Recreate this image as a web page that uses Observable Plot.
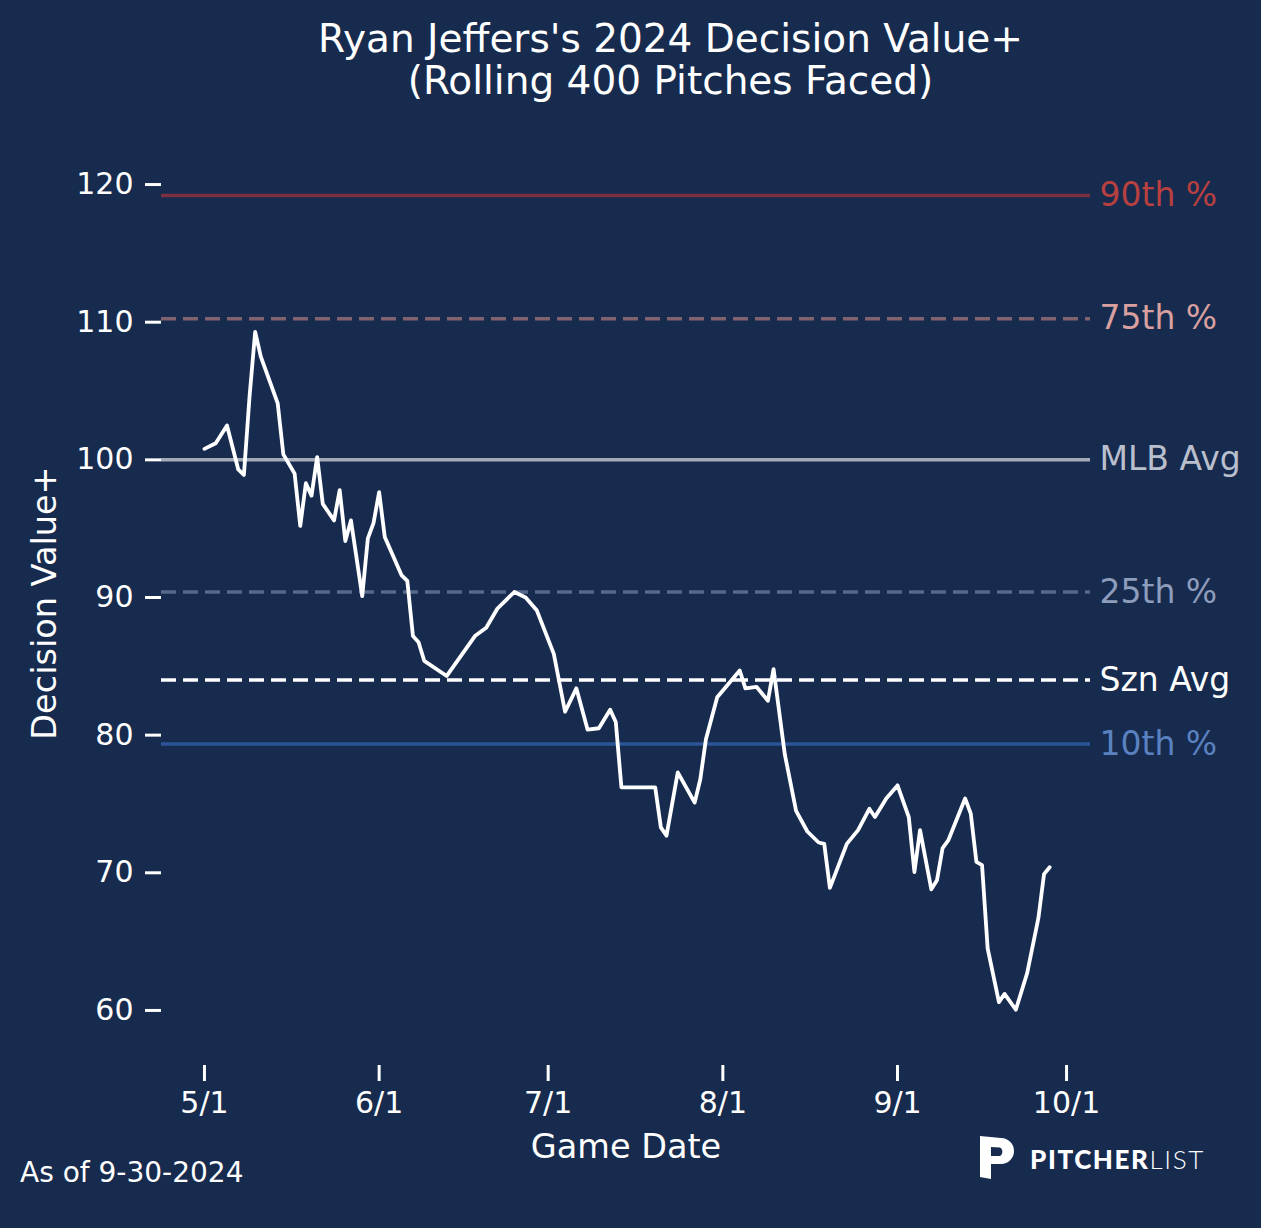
<!DOCTYPE html>
<html>
<head>
<meta charset="utf-8">
<script src="https://cdn.jsdelivr.net/npm/d3@7"></script>
<script src="https://cdn.jsdelivr.net/npm/@observablehq/plot@0.6"></script>
<style>
  html, body { margin: 0; padding: 0; background: #172b4f; }
  #wrap { position: relative; width: 1261px; height: 1228px; overflow: hidden; background: #172b4f;
          font-family: "DejaVu Sans", sans-serif; color: #ffffff; }
  #title { position: absolute; left: 0; top: 18px; width: 1341px; text-align: center;
           font-size: 39px; line-height: 42px; }
  #chart { position: absolute; left: 0; top: 0; }
  #asof { position: absolute; left: 20px; top: 1156px; font-size: 28px; line-height: 34px; }
  #logo { position: absolute; left: 980px; top: 1136px; display: flex; align-items: center; }
  #logo .txt { font-family: "Lato", sans-serif; font-size: 26px; letter-spacing: 1.6px; margin-left: 14px; margin-top: 2px; }
  #logo .b { font-weight: 900; }
  #logo .l { font-weight: 300; }
  g[aria-label="y-axis label"] text, g[aria-label="x-axis label"] text { font-size: 33.5px; }
</style>
</head>
<body>
<div id="wrap">
  <div id="title">Ryan Jeffers's 2024 Decision Value+<br>(Rolling 400 Pitches Faced)</div>
  <div id="chart"></div>
  <div id="asof">As of 9-30-2024</div>
  <div id="logo">
    <svg width="36" height="43" viewBox="0 0 36 43">
      <path d="M0 0 L21 2 A13 13 0 0 1 21 28 L11 28 L11 43 L0 41 Z M11 11 L20 11.5 A5 5 0 0 1 20 20 L11 20 Z" fill="#ffffff" fill-rule="evenodd"/>
    </svg>
    <div class="txt"><span class="b">PITCHER</span><span class="l">LIST</span></div>
  </div>
</div>
<script>
// ---- data ----
const gameDates = [
  "2024-05-01","2024-05-03","2024-05-05","2024-05-07","2024-05-08","2024-05-09","2024-05-10","2024-05-11",
  "2024-05-14","2024-05-15","2024-05-17","2024-05-18","2024-05-19","2024-05-20","2024-05-21","2024-05-22",
  "2024-05-24","2024-05-25","2024-05-26","2024-05-27","2024-05-29","2024-05-30","2024-05-31","2024-06-01",
  "2024-06-02","2024-06-05","2024-06-06","2024-06-07","2024-06-08","2024-06-09","2024-06-13","2024-06-18",
  "2024-06-20","2024-06-22","2024-06-25","2024-06-27","2024-06-29","2024-07-02","2024-07-04","2024-07-06",
  "2024-07-08","2024-07-10","2024-07-12","2024-07-13","2024-07-14","2024-07-20","2024-07-21","2024-07-22",
  "2024-07-24","2024-07-27","2024-07-28","2024-07-29","2024-07-31","2024-08-04","2024-08-05","2024-08-07",
  "2024-08-09","2024-08-10","2024-08-12","2024-08-14","2024-08-16","2024-08-18","2024-08-19","2024-08-20",
  "2024-08-23","2024-08-25","2024-08-27","2024-08-28","2024-08-30","2024-09-01","2024-09-03","2024-09-04",
  "2024-09-05","2024-09-07","2024-09-08","2024-09-09","2024-09-10","2024-09-13","2024-09-14","2024-09-15",
  "2024-09-16","2024-09-17","2024-09-19","2024-09-20","2024-09-22","2024-09-24","2024-09-26","2024-09-27",
  "2024-09-28"
];
const decisionValue = [
  100.8,101.2,102.5,99.3,98.9,104.6,109.3,107.5,
  104.1,100.4,99.0,95.2,98.3,97.4,100.2,96.8,
  95.6,97.8,94.1,95.6,90.1,94.3,95.4,97.65,
  94.4,91.6,91.2,87.2,86.75,85.4,84.3,87.2,
  87.8,89.2,90.4,90.0,89.05,85.9,81.7,83.4,
  80.4,80.5,81.85,80.95,76.2,76.2,73.3,72.7,
  77.3,75.1,76.8,79.7,82.75,84.7,83.4,83.5,
  82.5,84.8,78.6,74.5,73.0,72.2,72.1,68.9,
  72.1,73.1,74.65,74.05,75.4,76.35,74.05,70.05,
  73.1,68.8,69.45,71.8,72.35,75.4,74.3,70.8,
  70.55,64.5,60.6,61.2,60.05,62.7,66.7,69.9,
  70.4
];
const refNames  = ["90th %", "75th %", "MLB Avg", "25th %", "Szn Avg", "10th %"];
const refValues = [119.2, 110.25, 100, 90.4, 84.0, 79.35];
const yTicks = [60, 70, 80, 90, 100, 110, 120];
const xTickDates = ["2024-05-01","2024-06-01","2024-07-01","2024-08-01","2024-09-01","2024-10-01"];

// ---- styles (not data) ----
const refStyle = {
  "90th %":  {stroke: "#7a3041", dashed: false, label: "#b8403f"},
  "75th %":  {stroke: "#80636f", dashed: true,  label: "#d9a09f"},
  "MLB Avg": {stroke: "#a4aab8", dashed: false, label: "#b9bfcd"},
  "25th %":  {stroke: "#56698a", dashed: true,  label: "#8e9dbc"},
  "Szn Avg": {stroke: "#ffffff", dashed: true,  label: "#ffffff"},
  "10th %":  {stroke: "#2b5597", dashed: false, label: "#5b82c0"}
};

const series = gameDates.map((d, i) => ({date: new Date(d + "T00:00:00Z"), value: decisionValue[i]}));
const refs = refNames.map((n, i) => ({name: n, value: refValues[i], stroke: refStyle[n].stroke, label: refStyle[n].label, dashed: refStyle[n].dashed}));

const chart = Plot.plot({
  width: 1261,
  height: 1228,
  marginLeft: 161,
  marginRight: 171,
  marginTop: 140,
  marginBottom: 163,
  style: {background: "transparent", color: "#ffffff", fontFamily: "DejaVu Sans, sans-serif", fontSize: "30px", overflow: "visible"},
  x: {type: "utc", domain: [new Date("2024-04-23T09:00:00Z"), new Date("2024-10-05T06:00:00Z")]},
  y: {domain: [56, 123.2]},
  marks: [
    Plot.ruleY(refs.filter(r => !r.dashed), {y: "value", stroke: d => d.stroke, strokeWidth: 3.5}),
    Plot.ruleY(refs.filter(r => r.dashed), {y: "value", stroke: d => d.stroke, strokeWidth: 3.5, strokeDasharray: "15,7"}),
    Plot.text(refs, {y: "value", text: "name", fill: d => d.label, frameAnchor: "right", textAnchor: "start", dx: 9, fontSize: 33}),
    Plot.line(series, {x: "date", y: "value", stroke: "#ffffff", strokeWidth: 3.8}),
    Plot.axisY({ticks: yTicks, tickSize: 16, tickPadding: 12, strokeWidth: 3, tickFormat: d => String(d),
                label: "Decision Value+", labelAnchor: "center", labelOffset: 129, labelArrow: "none"}),
    Plot.axisX({ticks: xTickDates.map(d => new Date(d + "T00:00:00Z")), tickSize: 16, tickPadding: 10, strokeWidth: 3,
                tickFormat: d3.utcFormat("%-m/%-d"),
                label: "Game Date", labelAnchor: "center", labelOffset: 92, labelArrow: "none"})
  ]
});
document.getElementById("chart").appendChild(chart);
</script>
</body>
</html>
